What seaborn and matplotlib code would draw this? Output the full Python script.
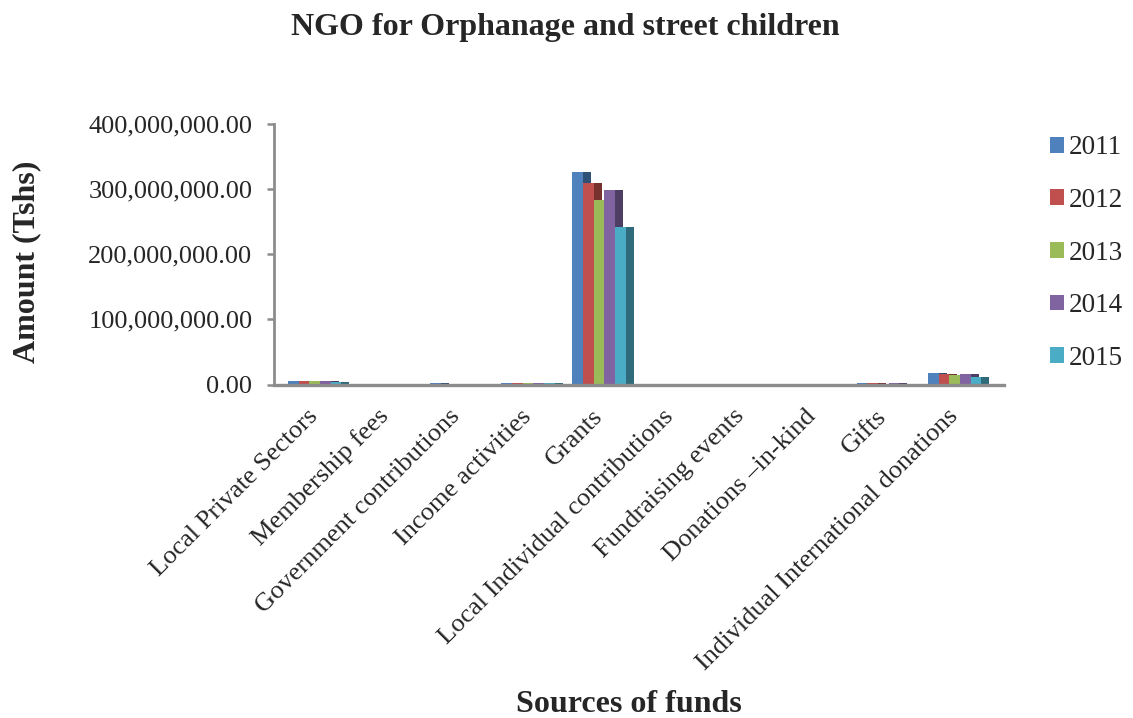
import matplotlib
matplotlib.use("Agg")
import matplotlib.pyplot as plt
import matplotlib.colors as mcolors
from matplotlib.patches import Rectangle, Patch
from matplotlib.ticker import FuncFormatter
import seaborn as sns
import pandas as pd

# Funding sources (categories) and yearly amounts in Tshs
sources = [
    "Local Private Sectors",
    "Membership fees",
    "Government contributions",
    "Income activities",
    "Grants",
    "Local Individual contributions",
    "Fundraising events",
    "Donations \u2013in-kind",
    "Gifts",
    "Individual International donations",
]
years = ["2011", "2012", "2013", "2014", "2015"]

amount_2011 = [5_300_000, 0, 1_800_000, 2_600_000, 326_000_000, 0, 0, 0, 2_000_000, 17_000_000]
amount_2012 = [5_100_000, 0, 1_500_000, 2_400_000, 310_000_000, 0, 0, 0, 1_800_000, 16_500_000]
amount_2013 = [5_000_000, 0, 1_400_000, 2_100_000, 283_000_000, 0, 0, 0, 1_500_000, 14_000_000]
amount_2014 = [5_600_000, 0, 1_200_000, 2_300_000, 299_000_000, 0, 0, 0, 1_800_000, 16_000_000]
amount_2015 = [4_000_000, 0, 1_000_000, 1_600_000, 242_000_000, 0, 0, 0, 1_200_000, 12_000_000]

y_ticks = [0, 100_000_000, 200_000_000, 300_000_000, 400_000_000]

front_colors = ["#4F81BD", "#C0504D", "#9BBB59", "#8064A2", "#4BACC6"]

series = [amount_2011, amount_2012, amount_2013, amount_2014, amount_2015]
rows = []
for yr, vals in zip(years, series):
    for src, v in zip(sources, vals):
        rows.append({"Source": src, "Year": yr, "Amount": v})
df = pd.DataFrame(rows)

sns.set_style("white")
plt.rcParams["font.family"] = ["Liberation Serif", "DejaVu Serif"]

W, H = 1133, 718
fig = plt.figure(figsize=(W / 100, H / 100), dpi=100)
ax_left, ax_right, ax_top, ax_bottom = 274, 1004, 124, 384.5
ax = fig.add_axes([ax_left / W, 1 - ax_bottom / H,
                   (ax_right - ax_left) / W, (ax_bottom - ax_top) / H])

sns.barplot(data=df, x="Source", y="Amount", hue="Year", order=sources,
            hue_order=years, palette=front_colors, saturation=1,
            width=0.75, errorbar=None, legend=False, ax=ax)


def darker(c, f=0.62):
    r, g, b = mcolors.to_rgb(c)
    return (r * f, g * f, b * f)


# Shaded side faces give each column a slight depth
for k, cont in enumerate(ax.containers):
    side = darker(front_colors[k])
    for bar in cont:
        bar.set_zorder(3)
        bar.set_linewidth(0)
        h = bar.get_height()
        if h <= 0:
            continue
        w = bar.get_width()
        ax.add_patch(Rectangle((bar.get_x() + w, 0), w * 0.75, h,
                               facecolor=side, edgecolor="none", zorder=2))

ax.set_xlim(-0.572, 9.695)
ax.set_ylim(0, 400_000_000)
ax.set_yticks(y_ticks)
ax.yaxis.set_major_formatter(FuncFormatter(lambda v, p: f"{v:,.2f}"))

for s in ["top", "right"]:
    ax.spines[s].set_visible(False)
ax.spines["left"].set_color("#8c8c8c")
ax.spines["left"].set_linewidth(2.0)
ax.spines["bottom"].set_color("#8c8c8c")
ax.spines["bottom"].set_linewidth(2.4)
ax.spines["bottom"].set_zorder(4)

ax.tick_params(axis="y", which="major", left=True, length=5, width=1.8,
               color="#8c8c8c", labelsize=19, pad=10.5)
ax.tick_params(axis="x", which="major", bottom=False, labelsize=19, pad=17)
plt.setp(ax.get_xticklabels(), rotation=45, ha="right", va="center",
         rotation_mode="anchor")

ax.set_xlabel("Sources of funds", fontsize=23, fontweight="bold")
ax.xaxis.set_label_coords((629 - ax_left) / (ax_right - ax_left),
                          ((H - 705) - (H - ax_bottom)) / (ax_bottom - ax_top))
ax.xaxis.label.set_va("center")
ax.set_ylabel("Amount (Tshs)", fontsize=23, fontweight="bold")
ax.yaxis.set_label_coords((27 - ax_left) / (ax_right - ax_left),
                          ((H - 262) - (H - ax_bottom)) / (ax_bottom - ax_top))
ax.yaxis.label.set_va("center")

fig.text(565 / W, 1 - 28 / H, "NGO for Orphanage and street children",
         ha="center", va="center", fontsize=23, fontweight="bold")

handles = [Patch(facecolor=c, edgecolor="none") for c in front_colors]
fig.legend(handles, years, loc="center left",
           bbox_to_anchor=(1050 / W, 1 - 253 / H), frameon=False,
           fontsize=19.5, handlelength=0.52, handleheight=0.52,
           handletextpad=0.18, labelspacing=1.02, borderpad=0,
           borderaxespad=0)

fig.savefig("out.png", dpi=100)
